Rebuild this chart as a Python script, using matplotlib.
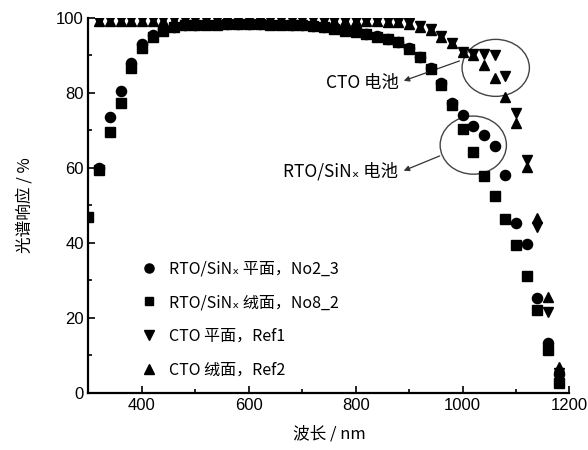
import numpy as np
import matplotlib
matplotlib.use("Agg")
import matplotlib.pyplot as plt
from matplotlib.patches import Ellipse

plt.rcParams['font.family'] = ['Liberation Sans', 'Noto Sans CJK SC', 'DejaVu Sans']
cjk = ['Noto Sans CJK SC', 'DejaVu Sans']

nan = np.nan

# wavelength (nm)
wavelength = [300, 320, 340, 360, 380, 400, 420, 440, 460, 480,
              500, 520, 540, 560, 580, 600, 620, 640, 660, 680,
              700, 720, 740, 760, 780, 800, 820, 840, 860, 880,
              900, 920, 940, 960, 980, 1000, 1020, 1040, 1060, 1080,
              1100, 1120, 1140, 1160, 1180]

# RTO/SiNx flat, No2_3
rto_flat = [nan, 60, 73.5, 80.5, 88, 93, 95.5, 97, 97.6, 98,
            98.2, 98.3, 98.3, 98.4, 98.4, 98.4, 98.4, 98.3, 98.3, 98.2,
            98.1, 97.9, 97.7, 97.2, 96.8, 96.4, 95.8, 95.1, 94.5, 93.7,
            92, 89.7, 86.7, 82.7, 77.3, 74, 71.2, 68.8, 65.9, 58,
            45.4, 39.7, 25.4, 13.3, 5]

# RTO/SiNx textured, No8_2
rto_tex = [47, 59.5, 69.7, 77.3, 86.7, 92, 95, 96.5, 97.5, 98,
           98.2, 98.2, 98.2, 98.3, 98.3, 98.3, 98.3, 98.2, 98.2, 98.1,
           98, 97.9, 97.6, 97.1, 96.6, 96.2, 95.6, 95, 94.3, 93.5,
           91.8, 89.5, 86.5, 82.2, 76.8, 70.5, 64.2, 57.9, 52.4, 46.4,
           39.5, 31.2, 22, 11.5, 2.7]

# CTO flat, Ref1
cto_flat = [nan, 99.3, 99.4, 99.4, 99.4, 99.4, 99.4, 99.4, 99.4, 99.4,
            99.4, 99.4, 99.4, 99.4, 99.4, 99.4, 99.4, 99.4, 99.4, 99.4,
            99.4, 99.4, 99.3, 99.3, 99.3, 99.3, 99.2, 99.2, 99.1, 99,
            98.7, 97.8, 97, 95.3, 93.3, 91, 90.5, 90.5, 90, 84.5,
            74.7, 62, 44.3, 21.6, 5.3]

# CTO textured, Ref2
cto_tex = [nan, 99.2, 99.3, 99.3, 99.3, 99.3, 99.3, 99.3, 99.3, 99.3,
           99.3, 99.3, 99.3, 99.3, 99.3, 99.3, 99.3, 99.3, 99.3, 99.3,
           99.3, 99.3, 99.2, 99.2, 99.2, 99.2, 99.1, 99.1, 99, 98.9,
           98.5, 97.7, 96.8, 95, 93.2, 91, 90, 87.5, 84, 79,
           72, 60.3, 46.7, 25.6, 7]

labels = ['RTO/SiNₓ 平面，No2_3', 'RTO/SiNₓ 绒面，No8_2',
          'CTO 平面，Ref1', 'CTO 绒面，Ref2']

fig = plt.figure(figsize=(5.88, 4.5), dpi=100)
ax = fig.add_axes([0.1505, 0.1267, 0.818, 0.8333])

ax.plot(wavelength, rto_flat, 'o', color='black', ms=7.3, label=labels[0], zorder=4)
ax.plot(wavelength, rto_tex, 's', color='black', ms=6.5, label=labels[1], zorder=3)
ax.plot(wavelength, cto_flat, 'v', color='black', ms=7.3, label=labels[2], zorder=5)
ax.plot(wavelength, cto_tex, '^', color='black', ms=7.3, label=labels[3], zorder=5)

ax.set_xlim(300, 1200)
ax.set_ylim(0, 100)
ax.set_xticks([400, 600, 800, 1000, 1200])
ax.set_xticks([500, 700, 900, 1100], minor=True)
ax.set_yticks([0, 20, 40, 60, 80, 100])
ax.set_yticks([10, 30, 50, 70, 90], minor=True)
ax.tick_params(which='both', direction='in', labelsize=12, width=1.2)
ax.tick_params(which='major', length=5)
ax.tick_params(which='minor', length=3)
for s in ['top', 'right']:
    ax.spines[s].set_visible(False)
for s in ['left', 'bottom']:
    ax.spines[s].set_linewidth(1.6)

ax.set_xlabel('波长 / nm', fontsize=12, family=cjk, labelpad=9)
ax.set_ylabel('光谱响应 / %', fontsize=12, family=cjk, labelpad=16)

ax.add_patch(Ellipse((1062, 86.7), 126, 15.2, fill=False, ec='#444444', lw=1.0))
ax.add_patch(Ellipse((1020, 66.1), 124, 15.5, fill=False, ec='#444444', lw=1.0))

arrow = dict(arrowstyle='-|>', color='#333333', lw=0.9, mutation_scale=8)
ax.annotate('', xy=(885, 83), xytext=(999, 88.8), arrowprops=arrow)
ax.text(880, 82.6, 'CTO 电池', ha='right', va='center', fontsize=12.5, family=cjk)
ax.annotate('', xy=(885, 59), xytext=(962, 63.5), arrowprops=arrow)
ax.text(880, 59, 'RTO/SiNₓ 电池', ha='right', va='center', fontsize=12.5, family=cjk)

ax.legend(loc='lower left', bbox_to_anchor=(0.075, 0.0), frameon=False,
          prop={'family': cjk, 'size': 11.5}, handletextpad=0.7,
          labelspacing=1.05, handlelength=1.2, markerscale=0.9)

fig.savefig('out.png', dpi=100)
